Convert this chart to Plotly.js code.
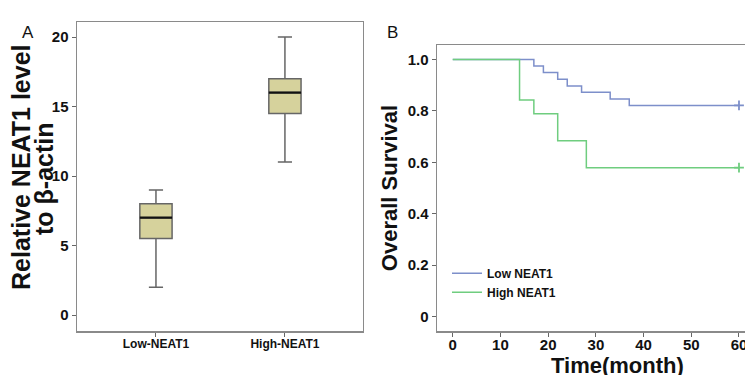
<!DOCTYPE html>
<html>
<head>
<meta charset="utf-8">
<script src="https://cdn.plot.ly/plotly-3.0.1.min.js"></script>
<style>html,body{margin:0;padding:0;background:#fff}#chart{width:745px;height:375px}</style>
</head>
<body>
<div id="chart"></div>
<script>
// Panel A: box plot (precomputed statistics)
const boxGroups = ["Low-NEAT1", "High-NEAT1"];
const boxPos = [0, 1];
const boxMin = [2, 11];
const boxQ1 = [5.5, 14.5];
const boxMedian = [7, 16];
const boxQ3 = [8, 17];
const boxMax = [9, 20];
const yTitleA = ["Relative NEAT1 level", "to β-actin"];

// Panel B: Kaplan-Meier curves
const lowTime = [0, 17, 19, 22, 24, 27, 33, 37, 60];
const lowSurv = [1.0, 0.974, 0.949, 0.923, 0.897, 0.872, 0.846, 0.821, 0.821];
const highTime = [0, 14, 17, 22, 28, 60];
const highSurv = [1.0, 0.842, 0.789, 0.684, 0.579, 0.579];
const xTicksB = [0, 10, 20, 30, 40, 50, 60];
const yTicksB = [0, 0.2, 0.4, 0.6, 0.8, 1.0];
const yTicksBText = ["0", "0.2", "0.4", "0.6", "0.8", "1.0"];
const yTicksA = [0, 5, 10, 15, 20];
const xTitleB = "Time(month)";

const boxWidth = 0.25;
const blue = "#7d8fca";
const green = "#6fcd7f";
const frame = "#8a8a8a";
const font = "Arial, 'Liberation Sans', sans-serif";

const traces = [];
traces.push({
  type: "box",
  x: boxPos,
  q1: boxQ1, median: boxMedian, q3: boxQ3,
  lowerfence: boxMin, upperfence: boxMax,
  width: boxWidth,
  whiskerwidth: 0.44,
  fillcolor: "#d6d29c",
  line: {color: "#666666", width: 1.5},
  xaxis: "x", yaxis: "y",
  showlegend: false, hoverinfo: "skip"
});
boxPos.forEach((p, i) => {
  traces.push({
    type: "scatter", mode: "lines",
    x: [p - boxWidth / 2, p + boxWidth / 2],
    y: [boxMedian[i], boxMedian[i]],
    line: {color: "#111111", width: 2.2},
    xaxis: "x", yaxis: "y", showlegend: false, hoverinfo: "skip"
  });
});

traces.push({
  type: "scatter", mode: "lines", name: "Low NEAT1",
  x: lowTime, y: lowSurv, line: {shape: "hv", color: blue, width: 1.5},
  xaxis: "x2", yaxis: "y2"
});
traces.push({
  type: "scatter", mode: "lines", name: "High NEAT1",
  x: highTime, y: highSurv, line: {shape: "hv", color: green, width: 1.5},
  xaxis: "x2", yaxis: "y2"
});
traces.push({
  type: "scatter", mode: "markers",
  x: [lowTime[lowTime.length - 1], highTime[highTime.length - 1]],
  y: [lowSurv[lowSurv.length - 1], highSurv[highSurv.length - 1]],
  marker: {symbol: "cross-thin", size: 7, line: {width: 1.8, color: [blue, green]}},
  xaxis: "x2", yaxis: "y2", showlegend: false, hoverinfo: "skip"
});

const tickFont = {family: font, size: 15, color: "#111", weight: "bold"};
const titleFontA = {family: font, size: 25, color: "#111", weight: "bold"};
const titleFontB = {family: font, size: 22, color: "#111", weight: "bold"};

const layout = {
  width: 745, height: 375,
  margin: {l: 0, r: 0, t: 0, b: 0},
  paper_bgcolor: "#fff", plot_bgcolor: "#fff",
  showlegend: true,
  font: {family: font},
  xaxis: {
    domain: [0.1034, 0.4872], range: [-0.612, 1.605],
    tickvals: boxPos, ticktext: boxGroups,
    tickfont: {family: font, size: 12, color: "#111", weight: "bold"},
    ticklabelstandoff: -3,
    ticks: "outside", ticklen: 4, tickcolor: "#666",
    showline: true, mirror: true, linecolor: frame, linewidth: 1.5,
    showgrid: false, zeroline: false, fixedrange: true
  },
  yaxis: {
    domain: [0.1173, 0.9413], range: [-1.15, 21.08],
    tickvals: yTicksA,
    tickfont: tickFont,
    ticks: "outside", ticklen: 4, tickcolor: "#666",
    showline: true, mirror: true, linecolor: frame, linewidth: 1.5,
    showgrid: false, zeroline: false
  },
  xaxis2: {
    domain: [0.5866, 1], range: [-3.3, 61.26],
    tickvals: xTicksB,
    tickfont: tickFont,
    ticklabeloverflow: "allow",
    ticklabelstandoff: -5,
    ticks: "outside", ticklen: 4, tickcolor: "#666",
    showline: true, mirror: true, linecolor: frame, linewidth: 1.5,
    showgrid: false, zeroline: false, anchor: "y2"
  },
  yaxis2: {
    domain: [0.1173, 0.88], range: [-0.056, 1.056],
    tickvals: yTicksB, ticktext: yTicksBText,
    tickfont: tickFont,
    ticks: "outside", ticklen: 4, tickcolor: "#666",
    showline: true, mirror: false, linecolor: frame, linewidth: 1.5,
    showgrid: false, zeroline: false, anchor: "x2",
    title: {text: "Overall Survival", font: titleFontB, standoff: 4}
  },
  legend: {
    x: 0.6, y: 0.31, xanchor: "left", yanchor: "top",
    bgcolor: "rgba(0,0,0,0)",
    font: {family: font, size: 12, color: "#111", weight: "bold"},
    itemwidth: 30, tracegroupgap: 0
  },
  annotations: [
    {text: "A", xref: "paper", yref: "paper", x: 20 / 745, y: 1 - 21 / 375,
     showarrow: false, font: {family: font, size: 17, color: "#111"}},
    {text: "B", xref: "paper", yref: "paper", x: 393 / 745, y: 1 - 21 / 375,
     showarrow: false, font: {family: font, size: 17, color: "#111"}},
    {text: yTitleA[0], xref: "paper", yref: "paper", x: 21 / 745, y: 1 - 168 / 375,
     xanchor: "center", yanchor: "middle",
     textangle: -90, showarrow: false, font: titleFontA},
    {text: yTitleA[1], xref: "paper", yref: "paper", x: 44 / 745, y: 1 - 179 / 375,
     xanchor: "center", yanchor: "middle",
     textangle: -90, showarrow: false, font: titleFontA},
    {text: xTitleB, xref: "paper", yref: "paper", x: 617.5 / 745, y: 1 - 365 / 375,
     xanchor: "center", yanchor: "middle", showarrow: false, font: titleFontB}
  ]
};

Plotly.newPlot("chart", traces, layout, {displayModeBar: false, staticPlot: true});
</script>
</body>
</html>
